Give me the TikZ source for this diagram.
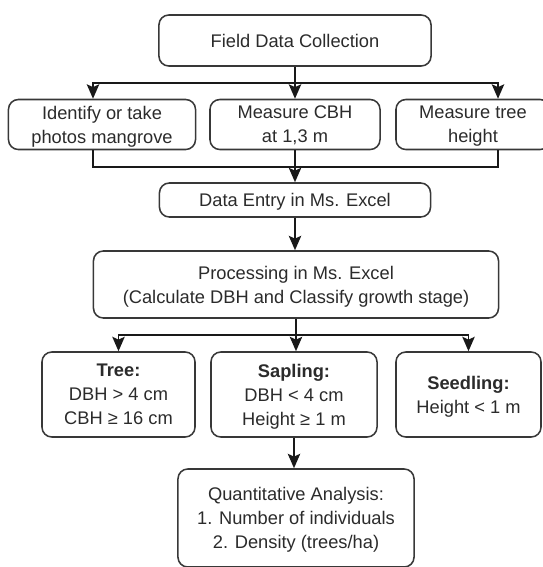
\documentclass[tikz,border=0pt]{standalone}
\usepackage{fontspec}
\setmainfont{Liberation Sans}
\usetikzlibrary{arrows.meta}

\definecolor{boxline}{HTML}{383838}
\definecolor{boxtext}{HTML}{2B2B2B}

\tikzset{
	stagebox/.style={draw=boxline, line width=1.1pt, rectangle, rounded corners=7pt, align=center, text=boxtext, inner sep=0pt, text depth=0pt, font=\fontsize{13}{17}\selectfont},
	link/.style={draw=black!90, line width=1.25pt},
	arr/.style={link, -{Stealth[length=3.6mm, width=3.1mm, inset=0.7mm]}}
}

\begin{document}
\begin{tikzpicture}[x=0.025cm, y=-0.025cm]
				\clip (0,0) rectangle (543,567);
				\node[stagebox, minimum width=6.8cm, minimum height=1.275cm] (field)at(295, 40.5) {Field Data Collection};
				\node[stagebox, minimum width=4.675cm, minimum height=1.25cm] (ident)at(102, 124.5) {Identify or take\\photos mangrove};
				\node[stagebox, minimum width=4.25cm, minimum height=1.25cm] (cbh)at(295, 124.5) {Measure CBH\\at 1,3 m};
				\node[stagebox, minimum width=3.85cm, minimum height=1.25cm] (tall)at(473, 124.5) {Measure tree\\height};
				\node[stagebox, minimum width=6.775cm, minimum height=0.85cm] (entry)at(295, 200) {Data Entry in Ms. Excel};
				\node[stagebox, minimum width=10.125cm, minimum height=1.675cm] (proc)at(296, 284.5) {Processing in Ms. Excel\\(Calculate DBH and Classify growth stage)};
				\node[stagebox, minimum width=3.825cm, minimum height=2.125cm] (tree)at(118.5, 394.5) {\textbf{Tree:}\\DBH > 4 cm\\CBH ≥ 16 cm};
				\node[stagebox, minimum width=4.15cm, minimum height=2.125cm] (sap)at(294, 394.5) {\textbf{Sapling:}\\DBH < 4 cm\\Height ≥ 1 m};
				\node[stagebox, minimum width=3.625cm, minimum height=2.125cm] (seed)at(468.5, 394.5) {\textbf{Seedling:}\\Height < 1 m};
				\node[stagebox, minimum width=5.9cm, minimum height=2.45cm] (quant)at(296, 518) {Quantitative Analysis:\\1. Number of individuals\\2. Density (trees/ha)};
				\draw[link] (field.south) -- ++(0,16) coordinate (fork1);
				\draw[arr] (fork1) -| ([xshift=-0.225cm]ident.north);
				\draw[arr] (fork1) -- (fork1 |- cbh.north);
				\draw[arr] (fork1) -| ([xshift=0.625cm]tall.north);
				\draw[link] (cbh.south) -- ++(0,17) coordinate (join1);
				\draw[link] ([xshift=-0.225cm]ident.south) |- (join1);
				\draw[link] ([xshift=0.625cm]tall.south) |- (join1);
				\draw[arr] (join1) -- (join1 |- entry.north);
				\draw[arr] (entry.south) -- (entry.south |- proc.north);
				\draw[link] (proc.south) -- ++(0,16) coordinate (fork2);
				\draw[arr] (fork2) -| (tree.north);
				\draw[arr] (fork2) -- (fork2 |- sap.north);
				\draw[arr] (fork2) -| (seed.north);
				\draw[arr] (sap.south) -- (sap.south |- quant.north);
			\end{tikzpicture}
\end{document}
